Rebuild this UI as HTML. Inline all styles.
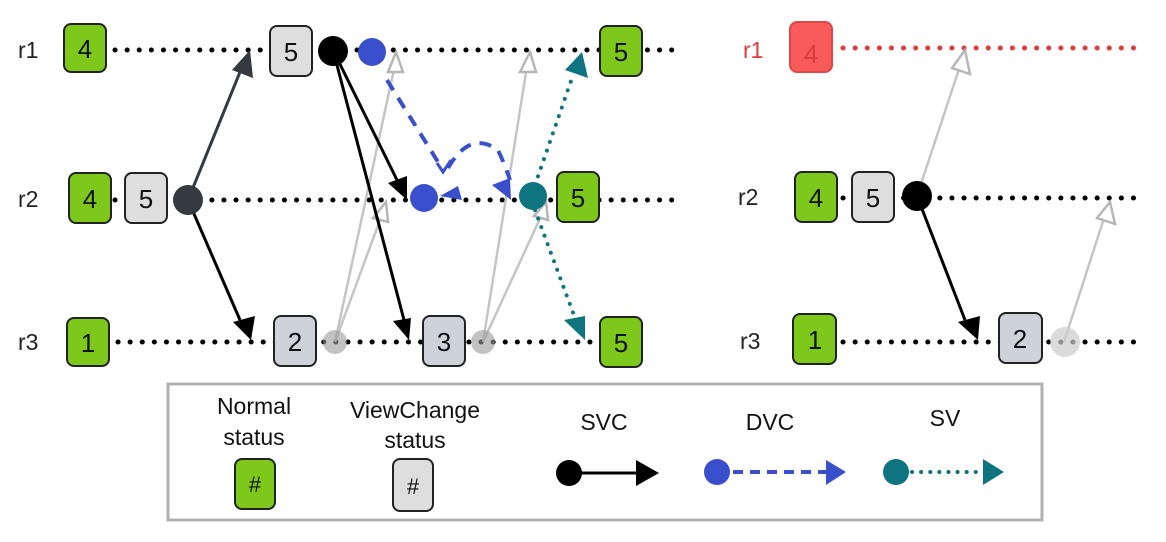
<!DOCTYPE html>
<html><head><meta charset="utf-8"><style>
html,body{margin:0;padding:0;background:#fff;}
svg{display:block;font-family:"Liberation Sans",sans-serif;}
</style></head><body>
<svg width="1166" height="542" viewBox="0 0 1166 542" xmlns="http://www.w3.org/2000/svg">
<g font-size="23" fill="#222">
<text x="18" y="58">r1</text><text x="18" y="207">r2</text><text x="18" y="350">r3</text>
<text x="743" y="58" fill="#e03a3a">r1</text><text x="738" y="205">r2</text><text x="740" y="349">r3</text>
</g>
<g stroke="#000" stroke-width="5" stroke-dasharray="0.1 12" stroke-linecap="round">
<line x1="115" y1="50" x2="680" y2="50"/>
<line x1="115" y1="200" x2="680" y2="200"/>
<line x1="118" y1="342" x2="650" y2="342"/>
<line x1="843" y1="198" x2="1145" y2="198"/>
<line x1="843" y1="342" x2="1145" y2="342"/>
<line x1="843" y1="48" x2="1145" y2="48" stroke="#e03a3a"/>
</g>
<g stroke="#bbb" stroke-width="2.5" fill="#fff" opacity="0.85">
<line x1="335" y1="342" x2="396" y2="60"/><path d="M396,52 L388,72 L403,72z" stroke="#aaa"/>
<line x1="335" y1="342" x2="383" y2="212"/><path d="M386,202 L373,218 L388,222z" stroke="#aaa"/>
<line x1="483" y1="342" x2="528" y2="60"/><path d="M530,52 L520,72 L536,72z" stroke="#aaa"/>
<line x1="483" y1="342" x2="543" y2="212"/><path d="M546,202 L534,216 L548,220z" stroke="#aaa"/>
<line x1="917" y1="196" x2="962" y2="60"/><path d="M965,50 L952,68 L970,74z" stroke="#aaa"/>
<line x1="1064" y1="342" x2="1106" y2="212"/><path d="M1110,202 L1097,218 L1115,224z" stroke="#aaa"/>
</g>
<circle cx="335" cy="342" r="12" fill="#999" opacity="0.6"/>
<circle cx="483" cy="342" r="12" fill="#999" opacity="0.6"/>
<circle cx="1065" cy="342" r="15" fill="#ccc" opacity="0.7"/>
<g stroke="#343a40" stroke-width="3">
<line x1="188" y1="200" x2="240" y2="72"/>
</g>
<path d="M250,50 L232,70 L253,78z" fill="#343a40"/>
<g stroke="#000" stroke-width="3">
<line x1="188" y1="200" x2="240" y2="320"/>
<line x1="333" y1="50" x2="397" y2="180"/>
<line x1="333" y1="50" x2="404" y2="320"/>
<line x1="917" y1="196" x2="965" y2="320"/>
</g>
<path d="M251,340 L233,322 L255,316z" fill="#000"/>
<path d="M407,200 L388,183 L407,176z" fill="#000"/>
<path d="M409,340 L393,321 L411,318z" fill="#000"/>
<path d="M978,340 L958,322 L980,316z" fill="#000"/>
<g stroke="#3a4fcc" stroke-width="4" fill="none" stroke-dasharray="12 9">
<line x1="387" y1="80" x2="443" y2="170"/>
<path d="M448,168 Q470,130 498,150 Q505,165 510,180"/>
</g>
<path d="M437,163 L443,172 L451,160" stroke="#3a4fcc" stroke-width="3" fill="none"/>
<path d="M511,200 L492,185 L510,178z" fill="#3a4fcc"/>
<path d="M440,196 L458,186 L462,200z" fill="#3a4fcc"/>
<circle cx="372" cy="52" r="14" fill="#3a4fcc"/>
<circle cx="424" cy="198" r="14" fill="#3a4fcc"/>
<g stroke="#0e7480" stroke-width="4" stroke-dasharray="0.1 9" stroke-linecap="round" fill="none">
<line x1="535" y1="185" x2="572" y2="78"/>
<line x1="535" y1="210" x2="575" y2="318"/>
</g>
<path d="M582,52 L565,70 L588,78z" fill="#0e7480"/>
<path d="M585,340 L564,320 L585,316z" fill="#0e7480"/>
<circle cx="533" cy="196" r="14" fill="#0e7480"/>
<circle cx="333" cy="51" r="15" fill="#000"/>
<circle cx="188" cy="200" r="15" fill="#343a40"/>
<circle cx="917" cy="196" r="15" fill="#000"/>
<g stroke="#222" stroke-width="2" font-size="26" text-anchor="middle">
<g fill="#7ec81c">
<rect x="64" y="24" width="42" height="48" rx="7"/>
<rect x="69" y="173" width="42" height="50" rx="7"/>
<rect x="67" y="318" width="42" height="48" rx="7"/>
<rect x="600" y="26" width="42" height="50" rx="7"/>
<rect x="557" y="172" width="42" height="50" rx="7"/>
<rect x="600" y="317" width="42" height="50" rx="7"/>
<rect x="795" y="172" width="42" height="50" rx="7"/>
<rect x="793" y="314" width="43" height="50" rx="7"/>
</g>
<g fill="#dedede">
<rect x="270" y="26" width="42" height="50" rx="7"/>
<rect x="125" y="173" width="42" height="50" rx="7"/>
<rect x="852" y="172" width="42" height="50" rx="7"/>
</g>
<g fill="#ced3da">
<rect x="274" y="316" width="42" height="50" rx="7"/>
<rect x="423" y="316" width="42" height="50" rx="7"/>
<rect x="999" y="313" width="43" height="50" rx="7"/>
</g>
<rect x="790" y="22" width="42" height="50" rx="7" fill="#f85a5a" stroke="#e04848"/>
<g stroke="none" fill="#111">
<text x="85" y="58">4</text><text x="90" y="208">4</text><text x="88" y="352">1</text>
<text x="621" y="61">5</text><text x="578" y="207">5</text><text x="621" y="352">5</text>
<text x="816" y="207">4</text><text x="815" y="349">1</text>
<text x="291" y="61">5</text><text x="146" y="208">5</text><text x="873" y="207">5</text>
<text x="295" y="351">2</text><text x="444" y="351">3</text><text x="1020" y="348">2</text>
<text x="811" y="63" fill="#d83c3c">4</text>
</g>
</g>
<rect x="168" y="384" width="874" height="136" fill="#fff" stroke="#b0b0b0" stroke-width="3"/>
<g font-size="23" fill="#111" text-anchor="middle">
<text x="254" y="414">Normal</text><text x="254" y="445">status</text>
<text x="415" y="418">ViewChange</text><text x="415" y="448">status</text>
<text x="604" y="430">SVC</text><text x="770" y="430">DVC</text><text x="945" y="426">SV</text>
</g>
<rect x="235" y="459" width="40" height="50" rx="7" fill="#7ec81c" stroke="#222" stroke-width="2"/>
<rect x="393" y="459" width="40" height="52" rx="7" fill="#dedede" stroke="#222" stroke-width="2"/>
<g font-size="22" fill="#111" text-anchor="middle"><text x="255" y="492">#</text><text x="413" y="494">#</text></g>
<circle cx="569" cy="473" r="13" fill="#000"/>
<line x1="569" y1="473" x2="640" y2="473" stroke="#000" stroke-width="3"/>
<path d="M636,460 L659,473 L636,486z" fill="#000"/>
<circle cx="717" cy="472" r="13" fill="#3a4fcc"/>
<line x1="733" y1="472" x2="826" y2="472" stroke="#3a4fcc" stroke-width="4" stroke-dasharray="10 7"/>
<path d="M826,460 L846,472 L826,485z" fill="#3a4fcc"/>
<circle cx="896" cy="472" r="13" fill="#0e7480"/>
<line x1="912" y1="472" x2="982" y2="472" stroke="#0e7480" stroke-width="4" stroke-dasharray="0.1 9" stroke-linecap="round"/>
<path d="M983,459 L1004,472 L983,485z" fill="#0e7480"/>
</svg>
</body></html>
